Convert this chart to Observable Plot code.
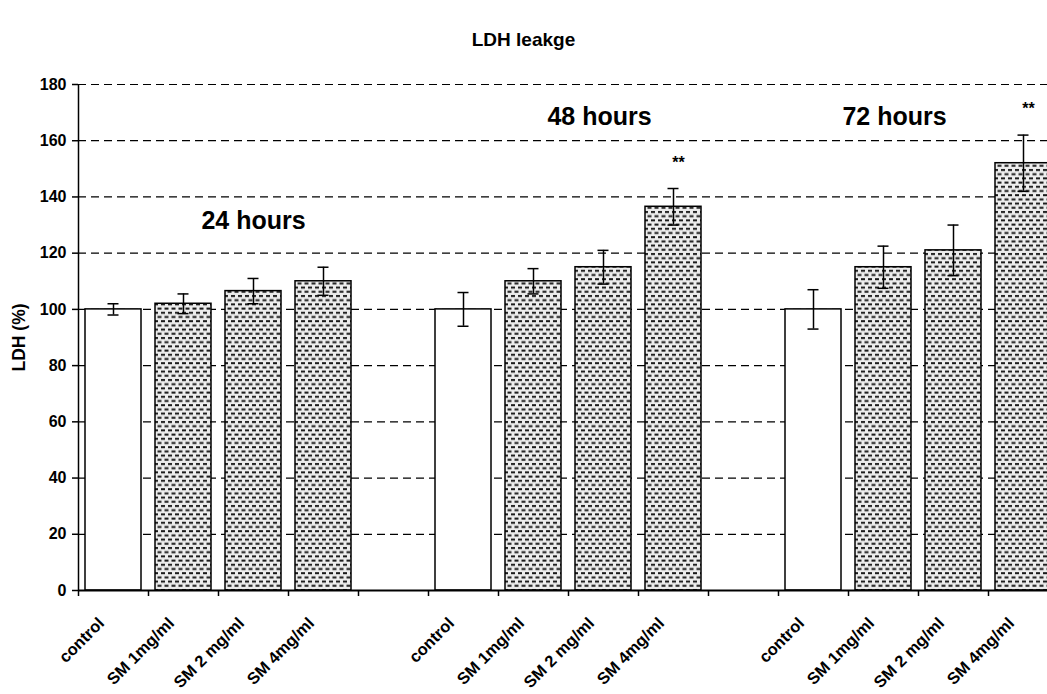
<!DOCTYPE html>
<html><head><meta charset="utf-8">
<script src="https://cdn.jsdelivr.net/npm/d3@7"></script>
<script src="https://cdn.jsdelivr.net/npm/@observablehq/plot@0.6"></script>
<style>
body{margin:0;background:#fff;font-family:Arial,"Liberation Sans",sans-serif;}
#wrap{position:relative;width:1047px;height:694px;overflow:hidden}
#title{position:absolute;top:29px;left:0;width:1047px;text-align:center;font-weight:bold;font-size:19px;line-height:22px;color:#000}
#chart{position:absolute;top:0;left:0}
</style></head><body>
<div id="wrap"><div id="chart"></div><div id="title">LDH leakge</div></div>
<script>
// Category slots (gaps separate the time groups)
const slots = ["c24","a24","b24","d24","gap1","c48","a48","b48","d48","gap2","c72","a72","b72","d72"];
const slotLabels = ["control","SM 1mg/ml","SM 2 mg/ml","SM 4mg/ml","","control","SM 1mg/ml","SM 2 mg/ml","SM 4mg/ml","","control","SM 1mg/ml","SM 2 mg/ml","SM 4mg/ml"];
const means  = [100, 102, 106.5, 110, null, 100, 110, 115, 136.5, null, 100, 115, 121, 152];
const errors = [2, 3.5, 4.5, 5, null, 6, 4.5, 6, 6.5, null, 7, 7.5, 9, 10];
const signif = ["", "", "", "", "", "", "", "", "**", "", "", "", "", "**"];
const groupNames = ["24 hours", "48 hours", "72 hours"];
const groupSlots = ["b24", "b48", "a72"];
const groupY = [131.5, 168.5, 168.5];
const groupDx = [0, -4, 11];
const yTicks = [0, 20, 40, 60, 80, 100, 120, 140, 160, 180];

const rows = slots.map((s, i) => ({slot: s, label: slotLabels[i], mean: means[i], err: errors[i], sig: signif[i]}))
  .filter(d => d.mean != null);
const controls = rows.filter(d => d.label === "control");
const treated = rows.filter(d => d.label !== "control");
const groups = groupNames.map((g, i) => ({name: g, slot: groupSlots[i], y: groupY[i], dx: groupDx[i]}));

const plot = Plot.plot({
  width: 1047,
  height: 694,
  marginLeft: 78,
  marginRight: 0,
  marginTop: 84,
  marginBottom: 104,
  style: {fontFamily: "Arial, 'Liberation Sans', sans-serif", color: "black", background: "white"},
  x: {type: "band", domain: slots, range: [78, 1058], paddingInner: 0.2, paddingOuter: 0.1, axis: null},
  y: {domain: [0, 180], axis: null},
  marks: [
    Plot.ruleY(yTicks.filter(v => v > 0), {stroke: "black", strokeWidth: 1.2, strokeDasharray: "8,5"}),
    Plot.barY(controls, {x: "slot", y: "mean", fill: "white", stroke: "black", strokeWidth: 1.5}),
    Plot.barY(treated, {x: "slot", y: "mean", fill: "url(#dots)", stroke: "black", strokeWidth: 1.5}),
    Plot.ruleX(rows, {x: "slot", y1: d => d.mean - d.err, y2: d => d.mean + d.err, stroke: "black", strokeWidth: 1.5}),
    Plot.tickY(rows, {x: "slot", y: d => d.mean + d.err, insetLeft: 22.5, insetRight: 22.5, stroke: "black", strokeWidth: 1.5}),
    Plot.tickY(rows, {x: "slot", y: d => d.mean - d.err, insetLeft: 22.5, insetRight: 22.5, stroke: "black", strokeWidth: 1.5}),
    Plot.text(rows.filter(d => d.sig), {x: "slot", y: d => d.mean + d.err, text: "sig", dy: -26, dx: 5, fontSize: 16, fontWeight: "bold", fill: "black"}),
    Plot.ruleY([0], {stroke: "black", strokeWidth: 2}),
    Plot.ruleX([slots[0]], {y1: 0, y2: 180, dx: -35, stroke: "black", strokeWidth: 1.5}),
    Plot.axisY({ticks: yTicks, tickSize: 6, tickPadding: 6, fontWeight: "bold", fontSize: 16, label: null, strokeWidth: 1.5}),
    Plot.axisX({tickSize: 6, dx: -35, tickFormat: () => "", label: null, strokeWidth: 1.5}),
    Plot.text(rows, {x: "slot", y: 0, text: "label", rotate: -45, textAnchor: "end", dy: 30, dx: -12, fontWeight: "bold", fontSize: 16.5, fill: "black"}),
    ...groups.map(g => Plot.text([g], {x: "slot", y: "y", text: "name", dx: g.dx, fontWeight: "bold", fontSize: 25, fill: "black"})),
    Plot.text(["LDH (%)"], {frameAnchor: "left", dx: -59, rotate: -90, textAnchor: "middle", fontWeight: "bold", fontSize: 17.5, fill: "black"})
  ]
});

// dotted pattern for treated bars
const defs = d3.create("svg:defs");
const pat = defs.append("pattern").attr("id", "dots").attr("patternUnits", "userSpaceOnUse")
  .attr("width", 7).attr("height", 8.4);
pat.append("rect").attr("width", 7).attr("height", 8.4).attr("fill", "#ededed");
pat.append("rect").attr("x", 0).attr("y", 1).attr("width", 4).attr("height", 2).attr("fill", "#1a1a1a");
pat.append("rect").attr("x", 3.5).attr("y", 5.2).attr("width", 4).attr("height", 2).attr("fill", "#1a1a1a");
pat.append("rect").attr("x", -3.5).attr("y", 5.2).attr("width", 4).attr("height", 2).attr("fill", "#1a1a1a");
plot.insertBefore(defs.node(), plot.firstChild);
document.getElementById("chart").appendChild(plot);
</script>
</body></html>
